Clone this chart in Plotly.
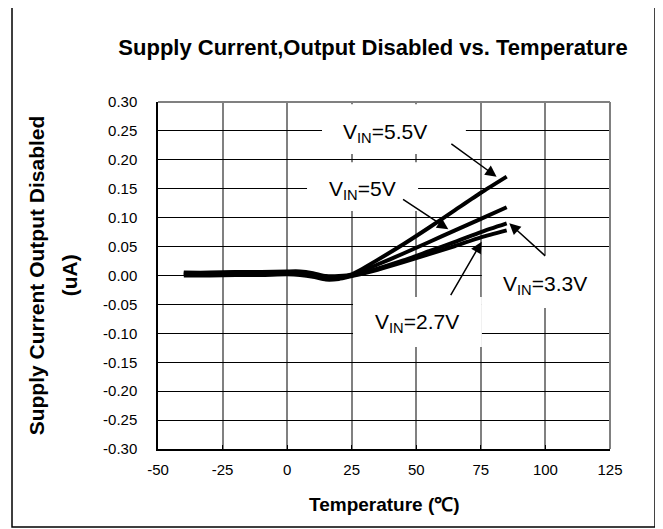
import plotly.graph_objects as go

# ---------------- data ----------------
temperature = [-40, -30, -20, -10, 0, 5, 10, 15, 20, 25, 35, 45, 55, 65, 75, 85]
i_55 = [0.005, 0.005, 0.006, 0.006, 0.007, 0.007, 0.004, -0.001, -0.001, 0.002, 0.027, 0.054, 0.083, 0.113, 0.143, 0.171]
i_50 = [0.004, 0.004, 0.005, 0.005, 0.006, 0.005, 0.002, -0.003, -0.003, 0.001, 0.019, 0.038, 0.058, 0.078, 0.098, 0.118]
i_33 = [0.002, 0.002, 0.003, 0.003, 0.004, 0.003, 0.000, -0.005, -0.004, 0.000, 0.012, 0.026, 0.042, 0.058, 0.075, 0.090]
i_27 = [0.000, 0.000, 0.001, 0.001, 0.002, 0.001, -0.002, -0.007, -0.006, -0.001, 0.010, 0.023, 0.037, 0.051, 0.066, 0.078]
series_names = ["V<sub>IN</sub>=5.5V", "V<sub>IN</sub>=5V", "V<sub>IN</sub>=3.3V", "V<sub>IN</sub>=2.7V"]
series_values = [i_55, i_50, i_33, i_27]

x_ticks = [-50, -25, 0, 25, 50, 75, 100, 125]
y_ticks = [-0.30, -0.25, -0.20, -0.15, -0.10, -0.05, 0.00, 0.05, 0.10, 0.15, 0.20, 0.25, 0.30]

# label text position, white box (x0, x1, y0, y1), arrow tail, arrow head
label_pos = [(37.9, 0.246), (29.0, 0.148), (99.8, -0.016), (50.3, -0.082)]
label_box = [(13.5, 69.2, 0.210, 0.296), (7.7, 50.7, 0.1115, 0.196),
             (75.4, 125.0, -0.056, 0.0355), (25.5, 75.4, -0.1236, -0.037)]
arrow_tail = [(63.0, 0.2296), (44.3, 0.1335), (100.5, 0.0315), (63.0, -0.0367)]
arrow_head = [(81.1, 0.1708), (62.4, 0.0799), (86.0, 0.0903), (75.3, 0.0584)]

FONT = "Liberation Sans, Arial, sans-serif"
OFF = 8  # page body margin

fig = go.Figure()
for name, vals in zip(series_names, series_values):
    fig.add_trace(go.Scatter(
        x=temperature, y=vals, mode="lines", name=name,
        line=dict(color="black", width=4, shape="spline", smoothing=0.6),
        showlegend=False, hoverinfo="skip"))

shapes = []
for (x0, x1, y0, y1) in label_box:
    shapes.append(dict(type="rect", xref="x", yref="y", x0=x0, x1=x1, y0=y0, y1=y1,
                       fillcolor="white", line=dict(width=0), layer="between"))
# top & right plot border (gray)
shapes.append(dict(type="line", xref="paper", yref="paper", x0=0, x1=1, y0=1, y1=1,
                   line=dict(color="#808080", width=2)))
shapes.append(dict(type="line", xref="paper", yref="paper", x0=1, x1=1, y0=0, y1=1,
                   line=dict(color="#808080", width=2)))
# outer chart frame
shapes.append(dict(type="rect", xref="paper", yref="paper",
                   x0=-0.323, x1=1.0996, y0=-0.2248, y1=1.2795,
                   line=dict(color="black", width=1.5), fillcolor="rgba(0,0,0,0)"))

annotations = []
for name, (tx, ty) in zip(series_names, label_pos):
    annotations.append(dict(x=tx, y=ty, xref="x", yref="y", text=name, showarrow=False,
                            font=dict(family=FONT, size=21, color="black"),
                            xanchor="center", yanchor="middle"))
for (hx, hy), (tx, ty) in zip(arrow_head, arrow_tail):
    annotations.append(dict(x=hx, y=hy, xref="x", yref="y", ax=tx, ay=ty,
                            axref="x", ayref="y", text="", showarrow=True,
                            arrowhead=2, arrowsize=1.5, arrowwidth=1.5,
                            arrowcolor="black", standoff=0))
# axis titles
annotations.append(dict(x=-0.268, y=0.5, xref="paper", yref="paper",
                        text="<b>Supply Current Output Disabled</b>", textangle=-90,
                        showarrow=False, font=dict(family=FONT, size=21, color="black"),
                        xanchor="center", yanchor="middle"))
annotations.append(dict(x=-0.195, y=0.5, xref="paper", yref="paper",
                        text="<b>(uA)</b>", textangle=-90,
                        showarrow=False, font=dict(family=FONT, size=21, color="black"),
                        xanchor="center", yanchor="middle"))
annotations.append(dict(x=0.502, y=-0.161, xref="paper", yref="paper",
                        text="<b>Temperature (℃)</b>",
                        showarrow=False, font=dict(family=FONT, size=19, color="black"),
                        xanchor="center", yanchor="middle"))

W, H = 663 - OFF, 529 - OFF
fig.update_layout(
    width=W, height=H, autosize=False,
    margin=dict(l=158 - OFF, r=53, t=102 - OFF, b=80, pad=0),
    paper_bgcolor="white", plot_bgcolor="white",
    font=dict(family=FONT, size=15, color="black"),
    title=dict(text="<b>Supply Current,Output Disabled vs. Temperature</b>",
               x=(373 - OFF) / W, xref="container", xanchor="center",
               y=1 - (47 - OFF) / H, yref="container", yanchor="middle",
               font=dict(family=FONT, size=22, color="black")),
    shapes=shapes, annotations=annotations,
    xaxis=dict(range=[-50, 125], tickvals=x_ticks, ticktext=[str(v) for v in x_ticks],
               showgrid=True, gridcolor="#808080", gridwidth=1.5,
               showline=True, linecolor="black", linewidth=1.5,
               ticks="inside", ticklen=4, tickcolor="black",
               ticklabelstandoff=6, zeroline=False,
               tickfont=dict(family=FONT, size=15, color="black")),
    yaxis=dict(range=[-0.30, 0.30], tickvals=y_ticks, ticktext=[f"{v:.2f}" for v in y_ticks],
               showgrid=True, gridcolor="black", gridwidth=1,
               showline=True, linecolor="black", linewidth=1.5,
               ticks="inside", ticklen=4, tickcolor="black",
               ticklabelstandoff=16, zeroline=False,
               tickfont=dict(family=FONT, size=15, color="black")),
)

fig.write_html("out.html")
